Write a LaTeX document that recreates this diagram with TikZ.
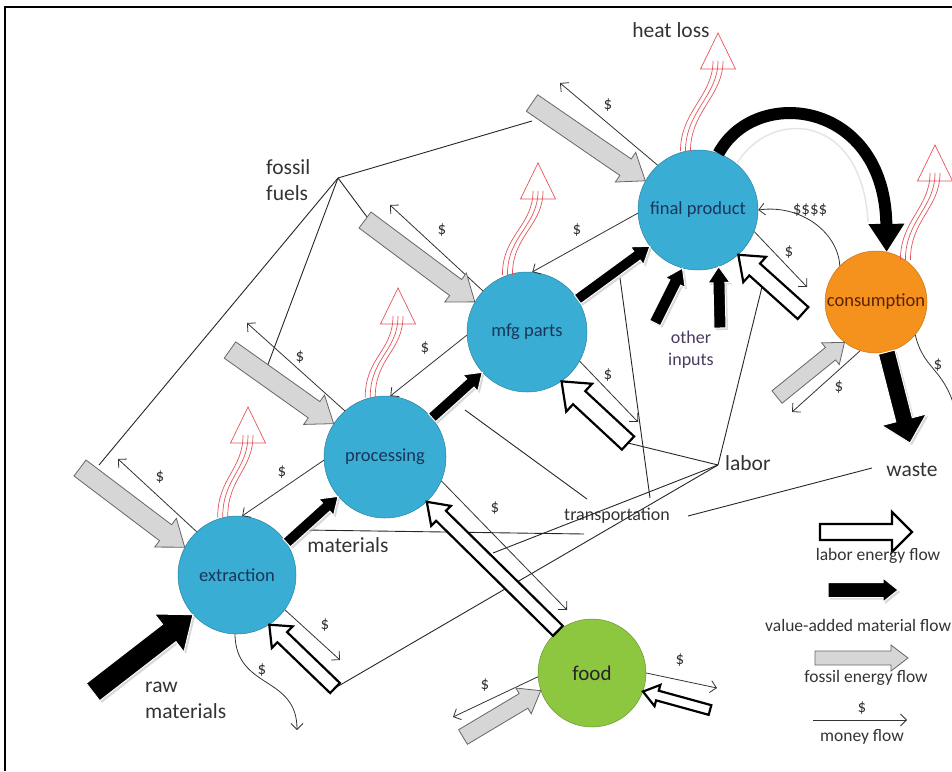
\documentclass[tikz,border=0pt]{standalone}
\usepackage{fontspec}
\setmainfont{Carlito}
\usetikzlibrary{calc,arrows.meta,shadows}

\definecolor{stageblue}{HTML}{3AADD4}
\definecolor{consorange}{HTML}{F5921E}
\definecolor{foodgreen}{HTML}{8DC63F}
\definecolor{heatred}{HTML}{E2545A}
\definecolor{fossilgray}{HTML}{D6D6D6}
\definecolor{stagetext}{HTML}{1A355A}
\definecolor{consbrown}{HTML}{5C2206}
\definecolor{otherpurple}{HTML}{4A3A5E}

\tikzset{
    stage/.style = {circle, minimum size=#1, inner sep=0pt, fill=stageblue,
                 draw=stageblue!75!black, line width=0.5pt, text=stagetext,
                 font=\fontsize{18.5}{20}\selectfont},
    stage/.default = 120pt,
    note/.style = {inner sep=0pt, text=black!80, font=\fontsize{21.5}{26}\selectfont},
    smallnote/.style = {inner sep=0pt, text=black!80, font=\fontsize{18}{22}\selectfont},
    legendtext/.style = {inner sep=0pt, text=black!80, font=\fontsize{17.5}{20}\selectfont},
    dollar/.style = {inner sep=0pt, text=black!80, font=\fontsize{17}{19}\selectfont},
    money/.style = {draw=black!80, line width=0.8pt, -{Straight Barb[length=6pt,width=12pt]}},
    tie/.style = {draw=black!85, line width=0.9pt},
    heat/.style = {draw=heatred, line width=0.7pt},
    fossil/.style = {fill=fossilgray, draw=black!60, line width=0.8pt, line join=miter},
    material/.style = {fill=black, draw=white, line width=1pt, line join=miter,
                 drop shadow={shadow xshift=2pt, shadow yshift=-2pt, fill=black!30, opacity=0.5}},
    labour/.style = {fill=white, draw=black, line width=2.2pt, line join=miter},
}

% block arrow: style, from, to, shaft half width, head half width, head length
\newcommand\flowarrow[6]{%
  \path[#1] ($(#2)!#4!90:(#3)$)
    -- ($(#3)!#6!(#2)!#4!90:(#3)$)
    -- ($(#3)!#6!(#2)!#5!90:(#3)$)
    -- (#3)
    -- ($(#3)!#6!(#2)!#5!-90:(#3)$)
    -- ($(#3)!#6!(#2)!#4!-90:(#3)$)
    -- ($(#2)!#4!-90:(#3)$) -- cycle;}

% heat loss: base on the circle, apex of the open head
\newcommand\heatloss[2]{%
  \foreach \k in {-5,0,5}
    \draw[heat] ($(#1)+(\k,0)$) .. controls +(0,-40) and +(0,35) .. ($(#2)+(\k,28)$);
  \draw[heat] (#2) -- ++(-17.5,36) -- ++(35,0) -- cycle;}

\begin{document}
\begin{tikzpicture}[x=1pt,y=-1pt]
\useasboundingbox (0,0) rectangle (952,771);
\clip (0,0) rectangle (952,771);
\draw[line width=2pt] (5,771) -- (5,7) -- (952,7);

% stages
\node (ext)  [stage=118pt] at (237,575) {extraction};
\node (proc) [stage=122pt] at (385,457) {processing};
\node (mfg)  [stage=120pt] at (527,332) {mfg parts};
\node (fin)  [stage=120pt] at (698,210) {final product};
\node (cons) [stage=102pt, fill=consorange, draw=consorange!80!black, text=consbrown] at (876,302) {consumption};
\node (food) [stage=108pt, fill=foodgreen, draw=foodgreen!75!black, text=black!85,
              font=\fontsize{21}{23}\selectfont] at (592,673) {food};

% labels
\node (heatlbl)   [note] at (671,30) {heat loss};
\node (fossillbl) [note, anchor=west, align=left] at (266,180) {fossil\\fuels};
\node (matlbl)    [note] at (348,545) {materials};
\node (rawlbl)    [note, anchor=west, align=left] at (145,700) {raw\\materials};
\node (otherlbl)  [smallnote, align=center, text=otherpurple] at (691,350) {other\\inputs};
\node (laborlbl)  [note, anchor=west] at (725,463) {labor};
\node (wastelbl)  [note] at (912,470) {waste};
\node (translbl)  [smallnote] at (617,516) {transportation};

% free ends
\coordinate (g1) at (80,468);   \coordinate (g2) at (230,350);
\coordinate (g3) at (365,220);  \coordinate (g4) at (532,103);
\coordinate (g5) at (777,397);  \coordinate (g6) at (463,737);
\coordinate (m1) at (118,459);  \coordinate (m2) at (247,323);
\coordinate (m3) at (390,205);  \coordinate (m4) at (560,83);
\coordinate (m8) at (807,287);  \coordinate (m10) at (792,412);
\coordinate (m11) at (960,430); \coordinate (m12) at (638,422);
\coordinate (m13) at (567,610); \coordinate (m14) at (340,660);
\coordinate (m15) at (297,730); \coordinate (m16) at (453,717);
\coordinate (m17) at (717,688);
\coordinate (w1) at (335,688);  \coordinate (w3) at (628,443);
\coordinate (w4) at (803,313);  \coordinate (w5) at (710,710);
\coordinate (raw) at (93,692);  \coordinate (oi1) at (655,323);
\coordinate (oi2) at (720,328); \coordinate (wst) at (910,443);
\coordinate (hx) at (248,407);  \coordinate (hp) at (398,288);
\coordinate (hm) at (538,163);  \coordinate (hf) at (718,33);
\coordinate (hc) at (935,145);
\coordinate (ff) at (338,178);
\coordinate (ff1) at (532,121); \coordinate (ff2) at (367,217);
\coordinate (ff3) at (267,367); \coordinate (ff4) at (99,465);
\coordinate (lb) at (718,465);
\coordinate (lb2) at (762,287); \coordinate (lb3) at (493,553);
\coordinate (tr1) at (305,530); \coordinate (tr2) at (584,534);
\coordinate (tr3) at (465,410); \coordinate (tr4) at (587,499);
\coordinate (tr5) at (620,278); \coordinate (tr6) at (650,498);
\coordinate (tr7) at (688,516); \coordinate (tr8) at (872,468);
\coordinate (lg1a) at (820,532); \coordinate (lg1b) at (912,532);
\coordinate (lg2a) at (828,590); \coordinate (lg2b) at (898,590);
\coordinate (lg3a) at (815,658); \coordinate (lg3b) at (908,658);
\coordinate (lg4a) at (813,720); \coordinate (lg4b) at (907,720);

% ties to the labels
\foreach \e in {ff1,ff2,ff3,ff4} \draw[tie] (ff) -- (\e);
\foreach \e in {w3,lb2,lb3,w1} \draw[tie] (lb) -- (\e);
\draw[tie] (tr1) -- (tr2);
\draw[tie] (tr3) -- (tr4);
\draw[tie] (tr5) -- (tr6);
\draw[tie] (tr7) -- (tr8);

% money flows
\draw[money] (ext.133) to (m1);
\draw[money] (proc.131) to (m2);
\draw[money] (mfg.137) to (m3);
\draw[money] (fin.132) to (m4);
\draw[money] (fin.183) to (mfg.85);
\draw[money] (mfg.183) to (proc.85);
\draw[money] (proc.183) to (ext.85);
\draw[money] (fin.-21) to (m8);
\draw[money] (cons.135) .. controls (838,232) and (800,204) .. (fin.0);
\draw[money] (cons.252) to (m10);
\draw[money] (cons.-40) .. controls (925,375) and (948,365) .. (m11);
\draw[money] (mfg.-29) to (m12);
\draw[money] (proc.-23) to (m13);
\draw[money] (ext.-36) to (m14);
\draw[money] (ext.268) .. controls (236,690) and (297,675) .. (m15);
\draw[money] (food.184) to (m16);
\draw[money] (food.0) to (m17);
\foreach \x/\y [count=\i] in {160/477,300/357,442/230,608/105,577/230,425/348,282/472,
    789/252,839/387,938/365,608/375,495/508,325/625,262/670,485/685,680/660}
  \node (d\i) [dollar] at (\x,\y) {\$};
\node (dfin) [dollar] at (810,210) {\$\$\$\$};

% fossil energy
\flowarrow{fossil}{g1}{ext.152}{10pt}{18pt}{24pt}
\flowarrow{fossil}{g2}{proc.147}{10pt}{18pt}{24pt}
\flowarrow{fossil}{g3}{mfg.150}{10pt}{18pt}{24pt}
\flowarrow{fossil}{g4}{fin.151}{10pt}{18pt}{24pt}
\flowarrow{fossil}{g5}{cons.232}{8pt}{14pt}{18pt}
\flowarrow{fossil}{g6}{food.199}{8.5pt}{15pt}{20pt}

% value-added material
\flowarrow{material}{raw}{ext.222}{11pt}{24pt}{30pt}
\flowarrow{material}{ext.33}{proc.220}{5.5pt}{11pt}{16pt}
\flowarrow{material}{proc.40}{mfg.222}{5.5pt}{11pt}{16pt}
\flowarrow{material}{mfg.33}{fin.217}{5.5pt}{11pt}{16pt}
\flowarrow{material}{oi1}{fin.255}{6pt}{11pt}{16pt}
\flowarrow{material}{oi2}{fin.290}{6pt}{11pt}{16pt}
\flowarrow{material}{cons.282}{wst}{8.5pt}{23pt}{24pt}
\draw[black!10, line width=1.5pt] (fin.50) .. controls (770,108) and (862,112) .. (868,222);
\draw[line width=12pt, -{Triangle[length=28pt,width=34pt]}]
    (fin.70) .. controls (755,85) and (885,100) .. (cons.78);

% labor energy
\flowarrow{labour}{w1}{ext.303}{7pt}{15pt}{18pt}
\flowarrow{labour}{food.129}{proc.313}{7pt}{14pt}{20pt}
\flowarrow{labour}{w3}{mfg.305}{9pt}{19pt}{24pt}
\flowarrow{labour}{w4}{fin.312}{8pt}{17pt}{22pt}
\flowarrow{labour}{w5}{food.340}{5pt}{11pt}{15pt}

% heat loss
\heatloss{ext.104}{hx}
\heatloss{proc.104}{hp}
\heatloss{mfg.109}{hm}
\heatloss{fin.102}{hf}
\heatloss{cons.55}{hc}

% legend
\flowarrow{labour}{lg1a}{lg1b}{8pt}{20pt}{20pt}
\node (lglabor) [legendtext] at (878,556) {labor energy flow};
\flowarrow{material}{lg2a}{lg2b}{7.5pt}{12pt}{15pt}
\node (lgmat) [legendtext, anchor=west] at (765,625) {value-added material flow};
\flowarrow{fossil}{lg3a}{lg3b}{7pt}{13pt}{17pt}
\node (lgfossil) [legendtext] at (866,678) {fossil energy flow};
\draw[money] (lg4a) to (lg4b);
\node (lgdollar) [dollar] at (862,708) {\$};
\node (lgmoney) [legendtext] at (862,737) {money flow};
\end{tikzpicture}
\end{document}
